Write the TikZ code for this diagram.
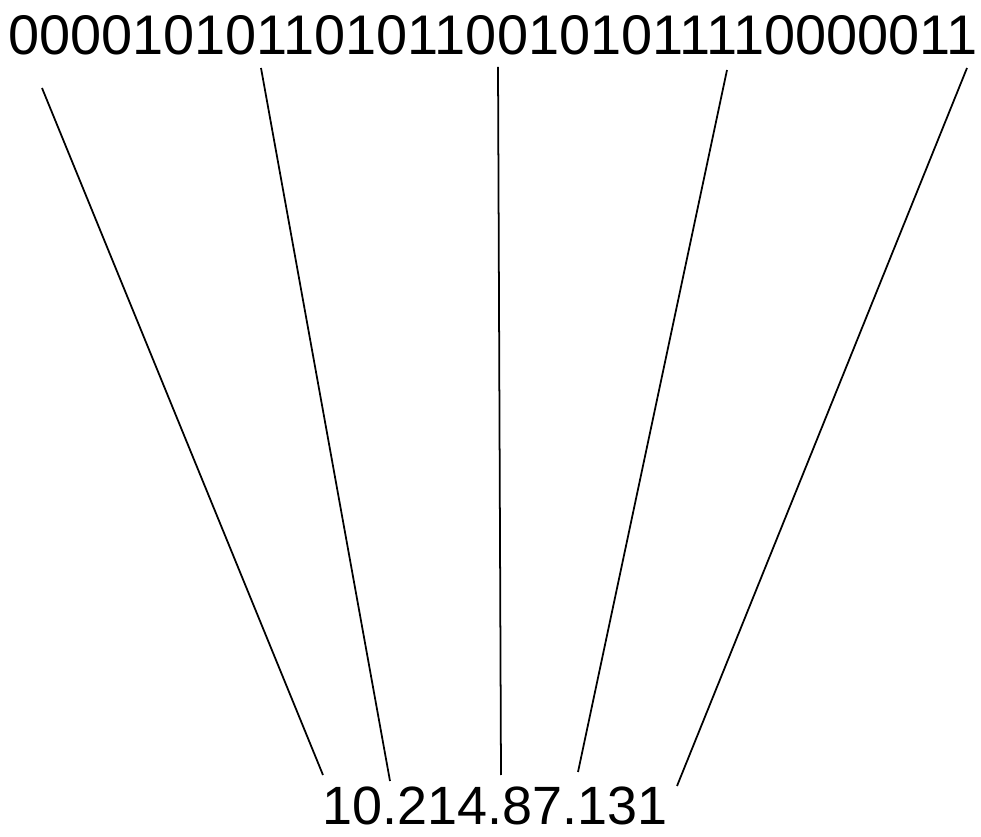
\documentclass[tikz,border=0pt]{standalone}
\usepackage{fontspec}
\setmainfont{Liberation Sans}
\usepackage{tikz}
\usetikzlibrary{positioning}

\begin{document}
\begin{tikzpicture}[
    x=0.02cm, y=-0.02cm,
    num/.style={inner sep=0pt, anchor=base, font=\fontsize{31.8}{36}\selectfont},
    link/.style={line width=1pt, black}
]
\useasboundingbox (0,0) rectangle (981,837);

% binaere Adresse
\node[num] (bits) at (493,55) {00001010110101100101011110000011};

% dezimale Adresse
\node[num, font=\fontsize{30.7}{36}\selectfont] (ip) at (495,825) {10.214.87.131};

% Endpunkte oben
\coordinate (t1) at (42,88);
\coordinate (t2) at (261,68);
\coordinate (t3) at (498,67);
\coordinate (t4) at (727,70);
\coordinate (t5) at (967,68);

% Endpunkte unten
\coordinate (b1) at (323,775);
\coordinate (b2) at (390,781);
\coordinate (b3) at (501,775);
\coordinate (b4) at (578,772);
\coordinate (b5) at (677,786);

% Linien
\draw[link] (t1) -- (b1);
\draw[link] (t2) -- (b2);
\draw[link] (t3) -- (b3);
\draw[link] (t4) -- (b4);
\draw[link] (t5) -- (b5);

\end{tikzpicture}
\end{document}
